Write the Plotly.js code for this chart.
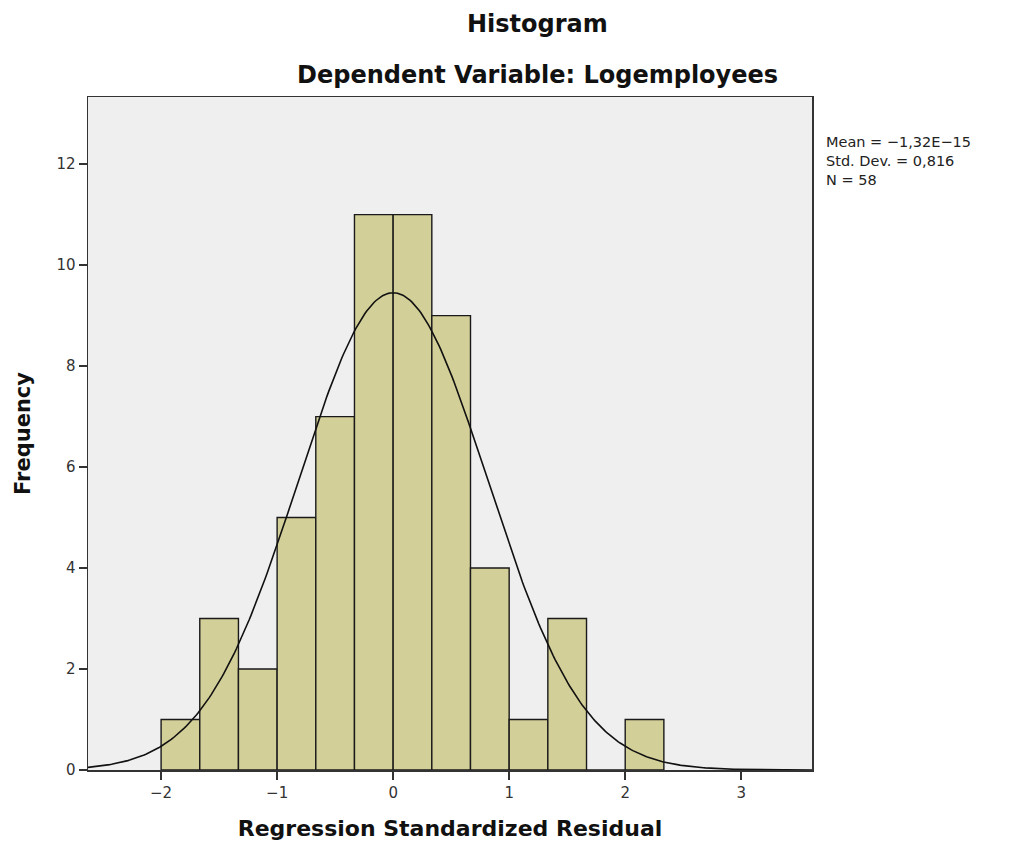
<!DOCTYPE html>
<html>
<head>
<meta charset="utf-8">
<script src="https://cdn.plot.ly/plotly-3.0.1.min.js"></script>
<style>html,body{margin:0;padding:0;background:#fff;}#chart{width:1011px;height:852px;}</style>
</head>
<body>
<div id="chart"></div>
<script>
// Data
const binStart = -2;
const binWidth = 1/3;
const frequencies = [1, 3, 2, 5, 7, 11, 11, 9, 4, 1, 3, 0, 1];
const statMean = -1.32e-15;
const statSD = 0.816;
const statN = 58;
const statLabels = ["Mean = \u22121,32E\u221215", "Std. Dev. = 0,816", "N = 58"];
const xTicks = [-2, -1, 0, 1, 2, 3];
const xTickText = ["\u22122", "\u22121", "0", "1", "2", "3"];
const yTicks = [0, 2, 4, 6, 8, 10, 12];

const binCenters = frequencies.map((_, i) => binStart + binWidth * (i + 0.5));

// Fitted normal curve (from displayed mean / SD / N)
const xMin = -2.63, xMax = 3.61;
const curveX = [], curveY = [];
for (let i = 0; i <= 400; i++) {
  const x = xMin + (xMax - xMin) * i / 400;
  const z = (x - statMean) / statSD;
  curveX.push(x);
  curveY.push(statN * binWidth * Math.exp(-0.5 * z * z) / (statSD * Math.sqrt(2 * Math.PI)));
}

const traces = [
  {
    type: 'bar', x: binCenters, y: frequencies, width: binWidth,
    marker: {color: '#d3cf98', line: {color: '#1a1a1a', width: 1.4}},
    hoverinfo: 'x+y', showlegend: false
  },
  {
    type: 'scatter', mode: 'lines', x: curveX, y: curveY,
    line: {color: '#111', width: 1.6}, hoverinfo: 'skip', showlegend: false
  }
];

const titleFont = "'DejaVu Sans', sans-serif";
const tickFont = "'DejaVu Sans', sans-serif";
const layout = {
  width: 1011, height: 852,
  margin: {l: 88, r: 199, t: 97, b: 82},
  paper_bgcolor: '#ffffff', plot_bgcolor: '#efefef',
  bargap: 0,
  font: {family: titleFont, color: '#222'},
  xaxis: {
    range: [xMin, xMax], tickvals: xTicks, ticktext: xTickText,
    ticks: 'outside', ticklen: 8, tickwidth: 1.5, tickcolor: '#333',
    showgrid: false, zeroline: false, showline: true, linecolor: '#333', linewidth: 1.5, mirror: true,
    tickfont: {size: 15, color: '#333', family: tickFont},
    title: {text: '<b>Regression Standardized Residual</b>', font: {size: 22, color: '#111', family: titleFont}, standoff: 20}
  },
  yaxis: {
    range: [0, 13.33], tickvals: yTicks,
    ticks: 'outside', ticklen: 8, tickwidth: 1.5, tickcolor: '#333',
    showgrid: false, zeroline: false, showline: true, linecolor: '#333', linewidth: 1.5, mirror: true,
    tickfont: {size: 15, color: '#333', family: tickFont},
    title: {text: '<b>Frequency</b>', font: {size: 21, color: '#111', family: titleFont}, standoff: 20}
  },
  annotations: [
    {text: '<b>Histogram</b>', xref: 'paper', yref: 'paper', x: 0.621, y: 1, yshift: 73, xanchor: 'center', yanchor: 'middle', showarrow: false, font: {size: 24, color: '#111', family: titleFont}},
    {text: '<b>Dependent Variable: Logemployees</b>', xref: 'paper', yref: 'paper', x: 0.621, y: 1, yshift: 22, xanchor: 'center', yanchor: 'middle', showarrow: false, font: {size: 24, color: '#111', family: titleFont}},
    {text: statLabels.join('<br>'), xref: 'paper', yref: 'paper', x: 1, xshift: 12, y: 1, yshift: -35, xanchor: 'left', yanchor: 'top', align: 'left', showarrow: false, font: {size: 14.5, color: '#222', family: tickFont}}
  ]
};

Plotly.newPlot('chart', traces, layout, {displayModeBar: false, staticPlot: true});
</script>
</body>
</html>
